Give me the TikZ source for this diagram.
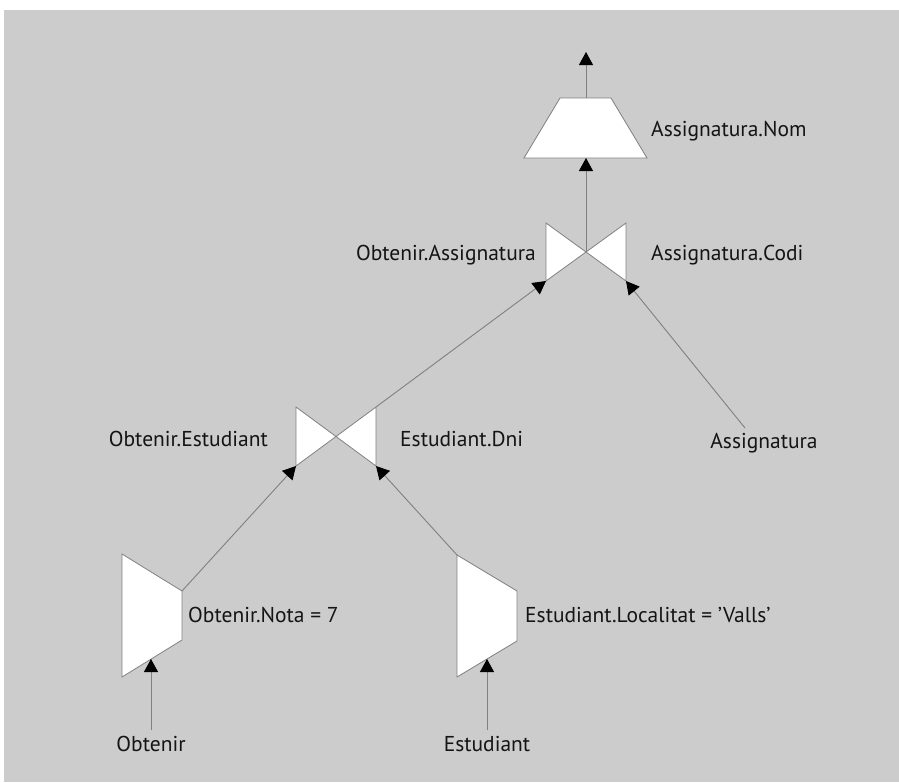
\documentclass[tikz,border=0pt]{standalone}
\usepackage{fontspec}
\setmainfont{PT Sans}
\usetikzlibrary{arrows.meta}
\definecolor{bgpanel}{RGB}{204,204,204}
\definecolor{edge}{RGB}{128,128,128}
\definecolor{ink}{RGB}{20,20,20}
\begin{document}
\begin{tikzpicture}[x=1pt,y=-1pt,
  opshape/.style={fill=white,draw=edge,line width=0.8pt,line join=miter},
  flow/.style={draw=edge,line width=0.9pt,-{Triangle[length=13pt,width=14pt,color=black]}},
  lbl/.style={anchor=base west,inner sep=0pt,text=ink,font=\fontsize{21.5}{26}\selectfont},
  lblc/.style={anchor=base,inner sep=0pt,text=ink,font=\fontsize{21.5}{26}\selectfont}]
% page and grey panel
\useasboundingbox (0,0) rectangle (899,782);
\fill[white] (0,0) rectangle (899,782);
\fill[bgpanel] (4,10) rectangle (899,782);

% projection (trapezoid)
\coordinate (pTL) at (560,98);
\coordinate (pTR) at (611,98);
\coordinate (pBR) at (647,158);
\coordinate (pBL) at (524,158);
\coordinate (pTop) at (586,98);
\coordinate (pBot) at (586,158);
\coordinate (out) at (586,52);
\draw[opshape] (pTL) -- (pTR) -- (pBR) -- (pBL) -- cycle;

% upper join (bowtie)
\coordinate (uTL) at (546,223);
\coordinate (uBL) at (546,281);
\coordinate (uTR) at (626,223);
\coordinate (uBR) at (626,281);
\coordinate (uC) at (586,252);
\draw[opshape] (uTL) -- (uBR) -- (uTR) -- (uBL) -- cycle;

% lower join (bowtie)
\coordinate (lTL) at (296,407);
\coordinate (lBL) at (296,466);
\coordinate (lTR) at (376,407);
\coordinate (lBR) at (376,466);
\coordinate (lC) at (336,437);
\draw[opshape] (lTL) -- (lBR) -- (lTR) -- (lBL) -- cycle;

% selections
\coordinate (sATL) at (122,554);
\coordinate (sATR) at (182,591);
\coordinate (sABR) at (182,640);
\coordinate (sABL) at (122,677);
\coordinate (sAin) at (151,659);
\draw[opshape] (sATL) -- (sATR) -- (sABR) -- (sABL) -- cycle;

\coordinate (sBTL) at (457,555);
\coordinate (sBTR) at (517,591);
\coordinate (sBBR) at (517,641);
\coordinate (sBBL) at (457,677);
\coordinate (sBin) at (487,659);
\draw[opshape] (sBTL) -- (sBTR) -- (sBBR) -- (sBBL) -- cycle;

% labels
\node[lbl] (nom) at (651,136) {Assignatura.Nom};
\node[lbl, anchor=base east] (oasg) at (536,260) {Obtenir.Assignatura};
\node[lbl] (acodi) at (651,260) {Assignatura.Codi};
\node[lbl, anchor=base east] (oest) at (268,446) {Obtenir.Estudiant};
\node[lbl] (edni) at (400,446) {Estudiant.Dni};
\node[lblc] (asg) at (764,448) {Assignatura};
\node[lbl] (nota) at (188,622) {Obtenir.Nota = 7};
\node[lbl] (loc) at (525,622) {Estudiant.Localitat = 'Valls'};
\node[lblc] (obt) at (151,751) {Obtenir};
\node[lblc] (est) at (487,751) {Estudiant};
\coordinate (asgTop) at (745,428);
\coordinate (obtTop) at (151,730);
\coordinate (estTop) at (487,730);

% data flow
\draw[flow] (pTop) -- (out);
\draw[flow] (uC) -- (pBot);
\draw[flow] (lTR) -- (uBL);
\draw[flow] (asgTop) -- (uBR);
\draw[flow] (sATR) -- (lBL);
\draw[flow] (sBTL) -- (lBR);
\draw[flow] (obtTop) -- (sAin);
\draw[flow] (estTop) -- (sBin);
\end{tikzpicture}
\end{document}
